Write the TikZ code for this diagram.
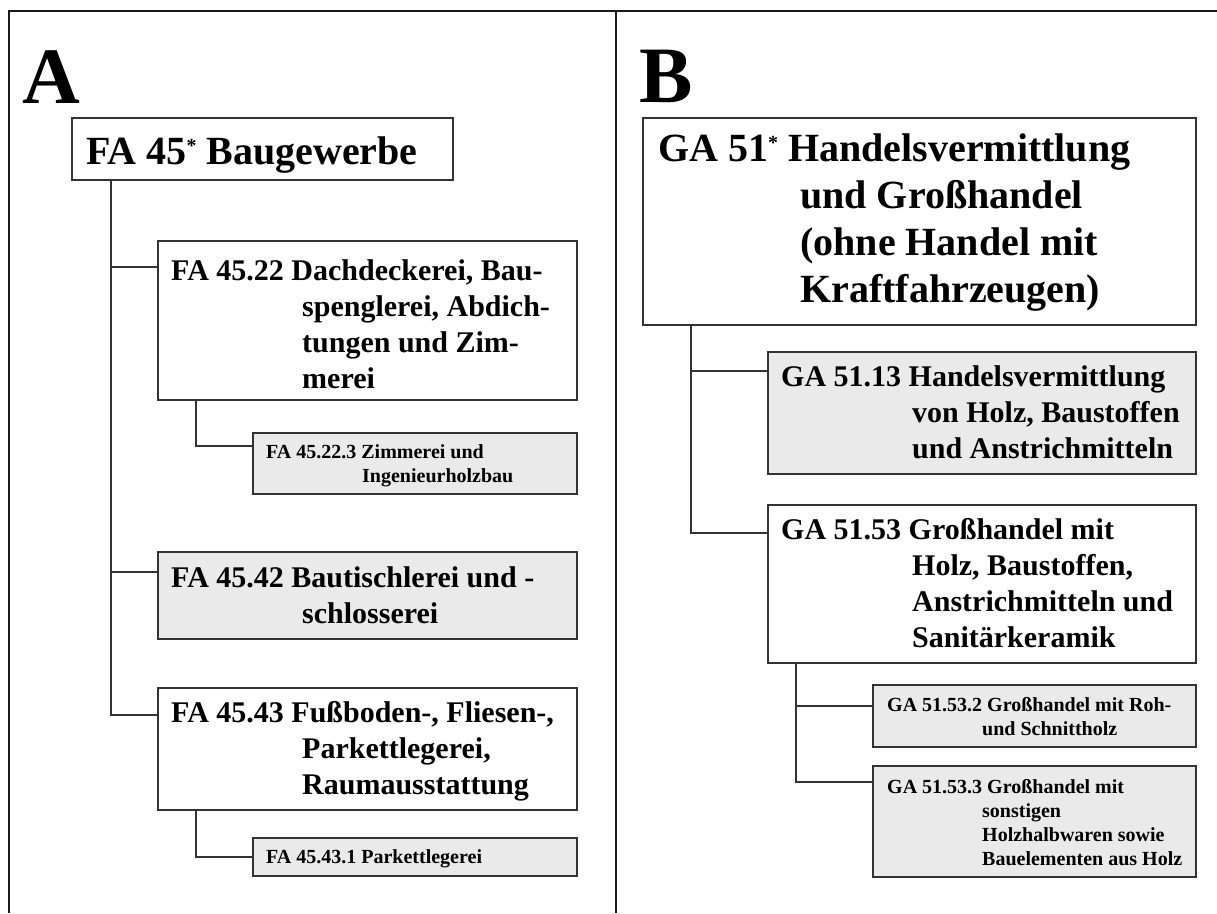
\documentclass[tikz,border=0pt]{standalone}
\usepackage{fontspec}
\setmainfont{Liberation Serif}
\definecolor{boxc}{HTML}{333333}
\definecolor{boxg}{HTML}{EAEAEA}
\definecolor{linec}{HTML}{333333}
\definecolor{framec}{HTML}{1A1A1A}
\newcommand\supast{\raisebox{12pt}{\fontsize{20}{20}\selectfont *}}
\begin{document}
\begin{tikzpicture}[x=1pt,y=-1pt,
  box/.style={draw=boxc, line width=1.3pt, fill=white, inner sep=0pt, outer sep=0pt, anchor=north west},
  gbox/.style={box, fill=boxg},
  conn/.style={draw=linec, line width=1.3pt},
  frame/.style={draw=framec, line width=2pt},
  big/.style={font=\fontsize{40}{47}\selectfont\bfseries, inner sep=0pt, anchor=base west},
  mid/.style={font=\fontsize{30}{36}\selectfont\bfseries, inner sep=0pt, anchor=base west},
  small/.style={font=\fontsize{20}{24}\selectfont\bfseries, inner sep=0pt, anchor=base west},
  letter/.style={font=\fontsize{80}{80}\selectfont\bfseries, inner sep=0pt, anchor=base west}]
\useasboundingbox (0,0) rectangle (1217,913);
\fill[white] (0,0) rectangle (1217,913);
% frame
\coordinate (tl) at (9,11);
\coordinate (tr) at (1217,11);
\coordinate (bl) at (9,913);
\coordinate (dt) at (616,11);
\coordinate (db) at (616,913);
\draw[frame] (tr) -- (tl) -- (bl);
\draw[frame] (dt) -- (db);
% boxes A
\node[box,  minimum width=381pt, minimum height=62pt]  (fa45)    at (72,118) {};
\node[box,  minimum width=419pt, minimum height=159pt] (fa4522)  at (158,241) {};
\node[gbox, minimum width=324pt, minimum height=61pt]  (fa45223) at (253,433) {};
\node[gbox, minimum width=419pt, minimum height=87pt]  (fa4542)  at (158,552) {};
\node[box,  minimum width=419pt, minimum height=122pt] (fa4543)  at (158,688) {};
\node[gbox, minimum width=324pt, minimum height=38pt]  (fa45431) at (253,838) {};
% boxes B
\node[box,  minimum width=553pt, minimum height=207pt] (ga51)    at (643,118) {};
\node[gbox, minimum width=428pt, minimum height=122pt] (ga5113)  at (768,352) {};
\node[box,  minimum width=428pt, minimum height=158pt] (ga5153)  at (768,505) {};
\node[gbox, minimum width=323pt, minimum height=62pt]  (ga51532) at (873,685) {};
\node[gbox, minimum width=323pt, minimum height=111pt] (ga51533) at (873,766) {};
% connectors A
\draw[conn] ([xshift=39pt]fa45.south west) |- ([yshift=-26pt]fa4522.north west);
\draw[conn] ([xshift=39pt]fa45.south west) |- ([yshift=-20pt]fa4542.north west);
\draw[conn] ([xshift=39pt]fa45.south west) |- ([yshift=-27pt]fa4543.north west);
\draw[conn] ([xshift=38pt]fa4522.south west) |- ([yshift=-13pt]fa45223.north west);
\draw[conn] ([xshift=38pt]fa4543.south west) |- ([yshift=-19pt]fa45431.north west);
% connectors B
\draw[conn] ([xshift=48pt]ga51.south west) |- ([yshift=-19pt]ga5113.north west);
\draw[conn] ([xshift=48pt]ga51.south west) |- ([yshift=-28pt]ga5153.north west);
\draw[conn] ([xshift=28pt]ga5153.south west) |- ([yshift=-21pt]ga51532.north west);
\draw[conn] ([xshift=28pt]ga5153.south west) |- ([yshift=-16pt]ga51533.north west);
% letters
\node[letter] (la) at (22,103) {A};
\node[letter] (lb) at (639,102) {B};
% texts A
\node[big] (fa45t) at (86,164) {FA 45\supast{} Baugewerbe};
\node[mid] (fa4522t) at (171,280) {\begin{tabular}[t]{@{}l@{}}FA 45.22 Dachdeckerei, Bau-\\\hspace*{131pt}spenglerei, Abdich-\\\hspace*{131pt}tungen und Zim-\\\hspace*{131pt}merei\end{tabular}};
\node[small] (fa45223t) at (266,458) {\begin{tabular}[t]{@{}l@{}}FA 45.22.3 Zimmerei und\\\hspace*{96pt}Ingenieurholzbau\end{tabular}};
\node[mid] (fa4542t) at (171,587) {\begin{tabular}[t]{@{}l@{}}FA 45.42 Bautischlerei und -\\\hspace*{131pt}schlosserei\end{tabular}};
\node[mid] (fa4543t) at (171,722) {\begin{tabular}[t]{@{}l@{}}FA 45.43 Fußboden-, Fliesen-,\\\hspace*{131pt}Parkettlegerei,\\\hspace*{131pt}Raumausstattung\end{tabular}};
\node[small] (fa45431t) at (266,863) {FA 45.43.1 Parkettlegerei};
% texts B
\node[big] (ga51t) at (658,161) {\begin{tabular}[t]{@{}l@{}}GA 51\supast{} Handelsvermittlung\\\hspace*{142pt}und Großhandel\\\hspace*{142pt}(ohne Handel mit\\\hspace*{142pt}Kraftfahrzeugen)\end{tabular}};
\node[mid] (ga5113t) at (781,386) {\begin{tabular}[t]{@{}l@{}}GA 51.13 Handelsvermittlung\\\hspace*{131pt}von Holz, Baustoffen\\\hspace*{131pt}und Anstrichmitteln\end{tabular}};
\node[mid] (ga5153t) at (781,539) {\begin{tabular}[t]{@{}l@{}}GA 51.53 Großhandel mit\\\hspace*{131pt}Holz, Baustoffen,\\\hspace*{131pt}Anstrichmitteln und\\\hspace*{131pt}Sanitärkeramik\end{tabular}};
\node[small] (ga51532t) at (887,711) {\begin{tabular}[t]{@{}l@{}}GA 51.53.2 Großhandel mit Roh-\\\hspace*{95pt}und Schnittholz\end{tabular}};
\node[small] (ga51533t) at (887,793) {\begin{tabular}[t]{@{}l@{}}GA 51.53.3 Großhandel mit\\\hspace*{95pt}sonstigen\\\hspace*{95pt}Holzhalbwaren sowie\\\hspace*{95pt}Bauelementen aus Holz\end{tabular}};
\end{tikzpicture}
\end{document}
